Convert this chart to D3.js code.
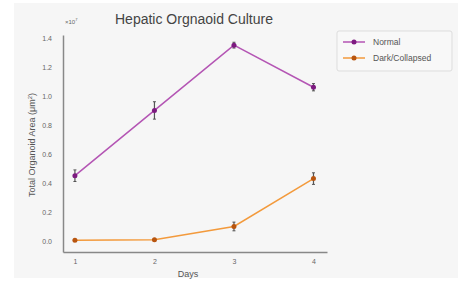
<!DOCTYPE html>
<html>
<meta charset="UTF-8">
<head>
  <style>
    body { margin: 0; background: #ffffff; }
    text { font-family: "Liberation Sans", Arial, sans-serif; }
  </style>
  <script src="https://d3js.org/d3.v7.min.js"></script>
</head>
<body>
<div id="chart"></div>
<script>
  // values (units of 1e7 um^2)
  var days = [1, 2, 3, 4];
  var normalMean = [0.45, 0.90, 1.35, 1.06];
  var normalErr = [0.04, 0.06, 0.02, 0.025];
  var darkMean = [0.005, 0.008, 0.10, 0.43];
  var darkErr = [0.006, 0.006, 0.03, 0.04];
  var yTicks = [0.0, 0.2, 0.4, 0.6, 0.8, 1.0, 1.2, 1.4];
  var seriesNames = ["Normal", "Dark/Collapsed"];

  var width = 458, height = 281;

  var svg = d3.select("#chart").append("svg")
    .attr("width", width)
    .attr("height", height);

  // light grey backdrop of the screenshot
  svg.append("rect")
    .attr("x", 14).attr("y", 3)
    .attr("width", width - 14).attr("height", 275)
    .attr("fill", "#f6f6f6");

  var x = d3.scaleLinear().domain([0.85, 4.17]).range([63, 327]);
  var y = d3.scaleLinear().domain([-0.076, 1.42]).range([252, 35]);

  // axes (left and bottom spines only, no tick marks)
  var yAxis = d3.axisLeft(y).tickValues(yTicks)
    .tickFormat(d3.format(".1f")).tickSize(0).tickPadding(11);
  var xAxis = d3.axisBottom(x).tickValues(days)
    .tickFormat(d3.format("d")).tickSize(0).tickPadding(7);

  var gy = svg.append("g").attr("transform", "translate(63,0)").call(yAxis);
  var gx = svg.append("g").attr("transform", "translate(0,252)").call(xAxis);
  [gx, gy].forEach(function (g) {
    g.select(".domain").attr("stroke", "#888").attr("stroke-width", 1.5);
    g.selectAll("text").attr("fill", "#666").attr("font-size", 7);
  });

  svg.append("text")
    .attr("x", 65).attr("y", 24)
    .attr("font-size", 6).attr("fill", "#666")
    .html('×10<tspan dy="-3" font-size="4">7</tspan>');

  svg.append("text")
    .attr("x", 194).attr("y", 24)
    .attr("text-anchor", "middle")
    .attr("font-size", 14).attr("fill", "#444")
    .text("Hepatic Orgnaoid Culture");

  svg.append("text")
    .attr("x", 188).attr("y", 277)
    .attr("text-anchor", "middle")
    .attr("font-size", 9).attr("fill", "#555")
    .text("Days");

  svg.append("text")
    .attr("transform", "translate(35,145) rotate(-90)")
    .attr("text-anchor", "middle")
    .attr("font-size", 9).attr("fill", "#555")
    .html('Total Organoid Area (μm<tspan dy="-3" font-size="6">2</tspan><tspan dy="3">)</tspan>');

  var series = [
    { name: seriesNames[0], mean: normalMean, err: normalErr, line: "#b455b4", mark: "#7d1a80" },
    { name: seriesNames[1], mean: darkMean, err: darkErr, line: "#f39a3c", mark: "#b8550f" }
  ];

  var line = d3.line()
    .x(function (d) { return x(d.day); })
    .y(function (d) { return y(d.v); });

  series.forEach(function (s) {
    var pts = days.map(function (d, i) { return { day: d, v: s.mean[i], e: s.err[i] }; });
    var g = svg.append("g");

    g.append("path")
      .datum(pts)
      .attr("fill", "none")
      .attr("stroke", s.line)
      .attr("stroke-width", 1.5)
      .attr("d", line);

    // error bars
    g.selectAll(".err")
      .data(pts)
      .enter().append("line")
      .attr("x1", function (d) { return x(d.day); })
      .attr("x2", function (d) { return x(d.day); })
      .attr("y1", function (d) { return y(d.v - d.e); })
      .attr("y2", function (d) { return y(d.v + d.e); })
      .attr("stroke", "#555").attr("stroke-width", 1.2);

    g.selectAll(".cap")
      .data(pts.flatMap(function (d) { return [[d.day, d.v - d.e], [d.day, d.v + d.e]]; }))
      .enter().append("line")
      .attr("x1", function (d) { return x(d[0]) - 1.5; })
      .attr("x2", function (d) { return x(d[0]) + 1.5; })
      .attr("y1", function (d) { return y(d[1]); })
      .attr("y2", function (d) { return y(d[1]); })
      .attr("stroke", "#555").attr("stroke-width", 1);

    g.selectAll("circle")
      .data(pts)
      .enter().append("circle")
      .attr("cx", function (d) { return x(d.day); })
      .attr("cy", function (d) { return y(d.v); })
      .attr("r", 2.5)
      .attr("fill", s.mark);
  });

  // legend
  var lg = svg.append("g");
  lg.append("rect")
    .attr("x", 337).attr("y", 31)
    .attr("width", 115).attr("height", 40)
    .attr("rx", 2)
    .attr("fill", "#f8f8f8")
    .attr("stroke", "#dddddd");

  series.forEach(function (s, i) {
    var ly = 42 + i * 16;
    lg.append("line")
      .attr("x1", 343).attr("x2", 365)
      .attr("y1", ly).attr("y2", ly)
      .attr("stroke", s.line).attr("stroke-width", 1.5);
    lg.append("circle")
      .attr("cx", 354).attr("cy", ly).attr("r", 2.5)
      .attr("fill", s.mark);
    lg.append("text")
      .attr("x", 373).attr("y", ly + 3)
      .attr("font-size", 8.5).attr("fill", "#555")
      .text(s.name);
  });
</script>
</body>
</html>
